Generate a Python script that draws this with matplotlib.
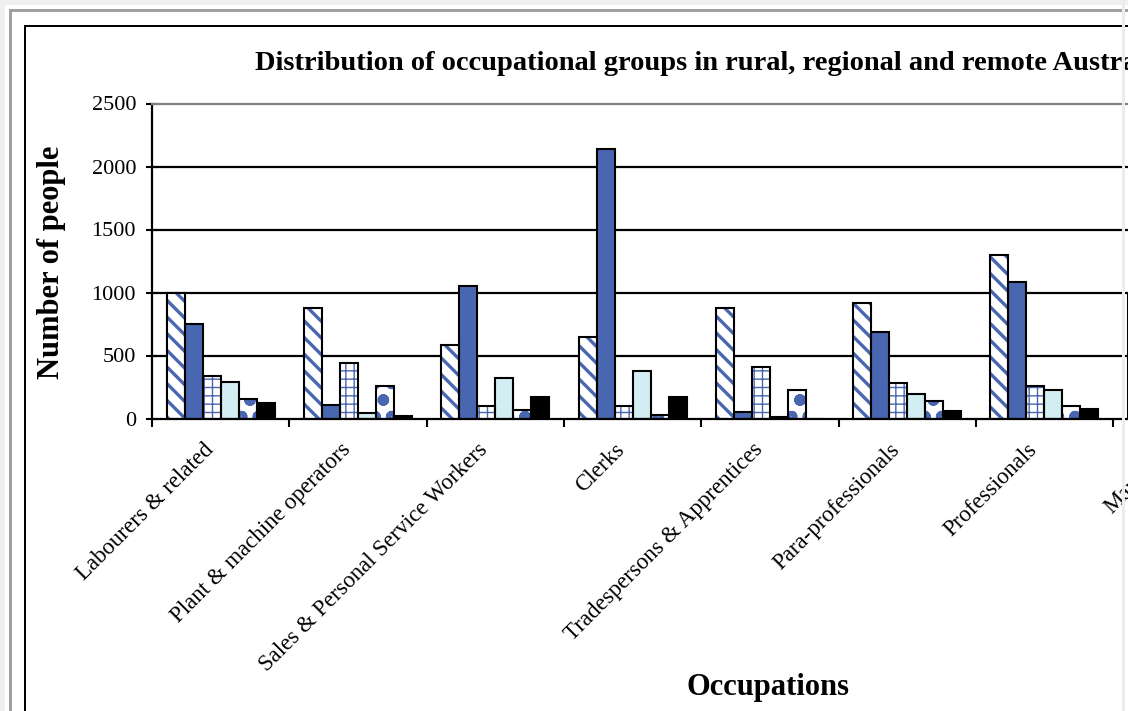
import matplotlib
matplotlib.use("Agg")
import matplotlib.pyplot as plt
import matplotlib.transforms as mtransforms
import numpy as np
from matplotlib.patches import Rectangle

# ---- data ----
categories = ["Labourers & related", "Plant & machine operators",
              "Sales & Personal Service Workers", "Clerks",
              "Tradespersons & Apprentices", "Para-professionals",
              "Professionals", "Managers"]
series_names = ["Series 1", "Series 2", "Series 3", "Series 4", "Series 5", "Series 6"]
s1 = [1000, 880, 580, 650, 880, 915, 1295, 980]
s2 = [750, 105, 1050, 2140, 55, 685, 1080, 820]
s3 = [335, 440, 100, 100, 410, 285, 255, 300]
s4 = [290, 40, 320, 380, 15, 195, 225, 250]
s5 = [155, 255, 70, 25, 225, 135, 100, 150]
s6 = [120, 20, 170, 170, 0, 60, 75, 100]
yticks = [0, 500, 1000, 1500, 2000, 2500]
title = "Distribution of occupational groups in rural, regional and remote Australia"
xlabel = "Occupations"
ylabel = "Number of people"

series = [s1, s2, s3, s4, s5, s6]
BLUE = "#4967B0"
CYAN = "#D3EEF3"
styles = [
    dict(face="white", hatch="\\\\", hcol=BLUE, hlw=2.4),
    dict(face=BLUE, hatch=None, hcol=BLUE, hlw=1.0),
    dict(face="white", hatch="++", hcol=BLUE, hlw=1.0),
    dict(face=CYAN, hatch=None, hcol=CYAN, hlw=1.0),
    dict(face="white", hatch="o", hcol=BLUE, hlw=3.6),
    dict(face="black", hatch=None, hcol="black", hlw=1.0),
]

W, H = 1128, 711
fig = plt.figure(figsize=(W / 100, H / 100), dpi=100)
SERIF = ["Liberation Serif", "DejaVu Serif"]

def fx(x):
    return x / W

def fy(y):
    return 1 - y / H

cat_w = 137.3
ax = fig.add_axes([fx(152), fy(418.5), 8 * cat_w / W, 315 / H])
x = np.arange(len(categories))
n = len(series)
bw = 0.131
offs = (np.arange(n) - (n - 1) / 2) * bw

for i, (vals, st) in enumerate(zip(series, styles)):
    with plt.rc_context({"hatch.linewidth": st["hlw"]}):
        ax.bar(x + offs[i], vals, width=bw, color=st["face"], hatch=st["hatch"],
               edgecolor=st["hcol"], linewidth=0, zorder=2, label=series_names[i])
    ax.bar(x + offs[i], vals, width=bw, fill=False, edgecolor="black",
           linewidth=1.5, zorder=3)

ax.set_xlim(-0.5, len(categories) - 0.5)
ax.set_ylim(yticks[0], yticks[-1])
for v in yticks[1:-1]:
    ax.axhline(v, color="black", lw=1.6, zorder=1)

for s in ["left", "bottom"]:
    ax.spines[s].set_color("black")
    ax.spines[s].set_linewidth(1.6)
ax.spines["top"].set_color("#808080")
ax.spines["top"].set_linewidth(1.6)
ax.spines["right"].set_visible(False)

ax.set_yticks(yticks)
ax.set_yticklabels([str(v) for v in yticks], fontsize=16, family=SERIF)
ax.tick_params(axis="y", direction="inout", length=9, width=1.5, pad=7)

ax.set_xticks(np.arange(len(categories) + 1) - 0.5)
ax.set_xticklabels([])
ax.tick_params(axis="x", which="major", direction="out", length=6, width=1.5)
ax.set_xticks(x, minor=True)
ax.set_xticklabels(categories, minor=True, rotation=45, ha="right",
                   rotation_mode="anchor", fontsize=16.5, family=SERIF)
ax.tick_params(axis="x", which="minor", length=0, pad=15)
shift = mtransforms.ScaledTranslation(-0.18, 0.0, fig.dpi_scale_trans)
for lab in ax.get_xticklabels(minor=True):
    lab.set_transform(lab.get_transform() + shift)
ax.set_facecolor("white")

fig.text(fx(255), fy(63), title, ha="left", va="center", fontsize=20.5,
         fontweight="bold", family=SERIF)
fig.text(fx(768), fy(687), xlabel, ha="center", va="center", fontsize=22,
         fontweight="bold", family=SERIF)
fig.text(fx(52), fy(262), ylabel, ha="center", va="center", rotation=90,
         fontsize=22, fontweight="bold", family=SERIF)

# frame decorations (window / chart area borders)
def rect(x0, y0, x1, y1, color, z=10):
    fig.patches.append(Rectangle((fx(x0), fy(y1)), (x1 - x0) / W, (y1 - y0) / H,
                                 transform=fig.transFigure, facecolor=color,
                                 edgecolor="none", zorder=z))

rect(0, 0, W, 5, "#f0f0f0")
rect(0, 0, 5, H, "#f0f0f0")
rect(9, 9, W, 12, "#a0a0a0")
rect(9, 9, 12, H, "#a0a0a0")
rect(24, 25, W, 27, "black")
rect(24, 25, 26, H, "black")
rect(1122, 0, 1125, H, "#ececec")

fig.savefig("out.png", dpi=100)
